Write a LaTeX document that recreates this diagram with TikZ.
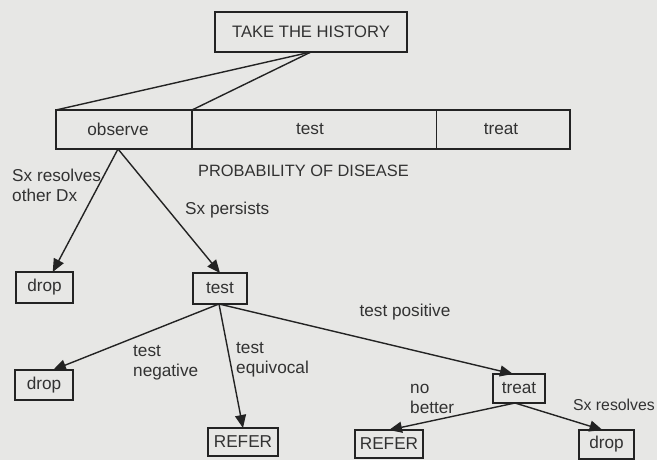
\documentclass[tikz,border=0pt]{standalone}
\usepackage{fontspec}
\setmainfont{Liberation Sans}
\usetikzlibrary{arrows.meta,calc}
\definecolor{bg}{RGB}{231,231,229}
\definecolor{ink}{RGB}{35,35,35}
\definecolor{txt}{RGB}{50,50,50}
\begin{document}
\begin{tikzpicture}[x=1pt,y=-1pt,
  every node/.style={font=\fontsize{17.2}{20}\selectfont, text=txt},
  box/.style={draw=ink, line width=1.3pt, inner sep=0pt, outer sep=0pt},
  referbox/.style={box, line width=2.6pt},
  cell/.style={draw=ink, line width=1.3pt, inner sep=0pt, outer sep=0pt, minimum height=39pt},
  conn/.style={draw=ink, line width=1.4pt},
  arr/.style={conn, -{Triangle[length=13pt,width=11pt]}},
  lbl/.style={anchor=west, align=left, inner sep=0pt}
]
\fill[bg] (0,0) rectangle (657,460);
\useasboundingbox (0,0) rectangle (657,460);

% top box
\node[box, minimum width=192pt, minimum height=40pt] (take) at (311,32) {\fontsize{16.6}{20}\selectfont TAKE THE HISTORY};

% probability bar
\node[cell, minimum width=136pt] (obs) at (124,129.5) {};
\node[cell, minimum width=244.5pt] (tst) at (314.25,129.5) {};
\node[cell, minimum width=133.5pt] (trt) at (503.25,129.5) {};
\node (obstxt) at (118,129.5) {observe};
\node (tsttxt) at (310,129.5) {test};
\node (trttxt) at (501,129.5) {treat};

\draw[conn] (take.south) -- (obs.north west);
\draw[conn] (take.south) -- (obs.north east);

\node[lbl] (prob) at (198,171) {\fontsize{16.4}{20}\selectfont PROBABILITY OF DISEASE};

% second level
\coordinate (obsbot) at (118,149);
\node[box, minimum width=57pt, minimum height=31pt] (drop1) at (44.5,287.5) {drop};
\node[box, minimum width=54pt, minimum height=31pt] (test) at (220,288.5) {test};

\draw[arr] (obsbot) -- (drop1);
\draw[arr] (obsbot) -- (test.north);

\node[lbl] (l1) at (12,185) {Sx resolves\\other Dx};
\node[lbl] (l2) at (185,210) {Sx persists};

% third level
\node[box, minimum width=58pt, minimum height=30pt] (drop2) at (44,385) {drop};
\node[referbox, minimum width=70pt, minimum height=28pt] (refer1) at (243,442) {REFER};
\node[box, minimum width=52pt, minimum height=29pt] (treat) at (519,388.5) {treat};

\coordinate (testbot) at (219,304);
\draw[arr] (testbot) -- ([xshift=9pt]drop2.north);
\draw[arr] (testbot) -- (refer1.north);
\draw[arr] (testbot) -- ([xshift=-6pt]treat.north);

\node[lbl] (l3) at (133,363) {test\\negative};
\node[lbl] (l4) at (236,360) {test\\equivocal};
\node (l5) at (405,312) {test positive};

% fourth level
\node[referbox, minimum width=68pt, minimum height=28pt] (refer2) at (389,444) {REFER};
\node[box, minimum width=55pt, minimum height=29pt] (drop3) at (606.5,444.5) {drop};

\coordinate (treatbot) at (515,403);
\draw[arr] (treatbot) -- (refer2.north);
\draw[arr] (treatbot) -- ([xshift=-4pt]drop3.north);

\node[lbl] (l6) at (410,399) {no\\better};
\node[anchor=east, inner sep=0pt] (l7) at (655,405) {\fontsize{15.8}{20}\selectfont Sx resolves};
\end{tikzpicture}
\end{document}
